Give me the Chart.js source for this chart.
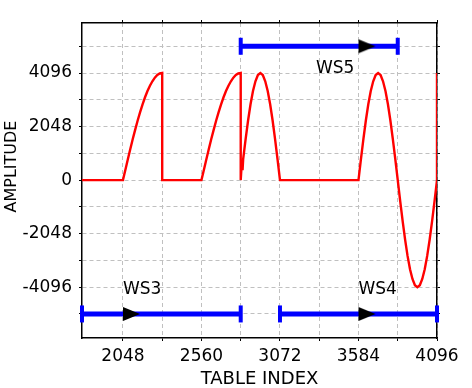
<!DOCTYPE html>
<html>
<head>
<meta charset="utf-8">
<script src="https://cdn.jsdelivr.net/npm/chart.js@4/dist/chart.umd.min.js"></script>
<style>
html,body{margin:0;padding:0;background:#fff;}
canvas{display:block;}
</style>
</head>
<body>
<canvas id="c" width="472" height="388"></canvas>
<script>
// ---- data ----
const xMin = 1781, xMax = 4096;
const yMin = -6040, yMax = 6010;
const xGrid = [2048, 2304, 2560, 2816, 3072, 3328, 3584, 3840, 4096];
const yGrid = [-5120, -4096, -3072, -2048, -1024, 0, 1024, 2048, 3072, 4096, 5120];
const xTickLabels = ['2048', '2560', '3072', '3584', '4096'];
const yTickLabels = ['-4096', '-2048', '0', '2048', '4096'];

const tableIndex = [
  1781, 2048,
  2064, 2080, 2096, 2112, 2128, 2144, 2160, 2176, 2192, 2208, 2224, 2240, 2256, 2272, 2288, 2304,
  2304, 2560,
  2576, 2592, 2608, 2624, 2640, 2656, 2672, 2688, 2704, 2720, 2736, 2752, 2768, 2784, 2800, 2816,
  2816, 2824, 2828,
  2832, 2848, 2864, 2880, 2896, 2912, 2928, 2944, 2960, 2976, 2992, 3008, 3024, 3040, 3056, 3072,
  3584,
  3600, 3616, 3632, 3648, 3664, 3680, 3696, 3712, 3728, 3744, 3760, 3776, 3792, 3808, 3824, 3840,
  3856, 3872, 3888, 3904, 3920, 3936, 3952, 3968, 3984, 4000, 4016, 4032, 4048, 4064, 4080, 4096,
  4096
];
const amplitude = [
  0, 0,
  400, 800, 1190, 1570, 1930, 2280, 2600, 2900, 3170, 3410, 3610, 3780, 3920, 4020, 4080, 4096,
  0, 0,
  400, 800, 1190, 1570, 1930, 2280, 2600, 2900, 3170, 3410, 3610, 3780, 3920, 4020, 4080, 4096,
  0, 760, 380,
  800, 1570, 2280, 2900, 3410, 3780, 4020, 4096, 4020, 3780, 3410, 2900, 2280, 1570, 800, 0,
  0,
  800, 1570, 2280, 2900, 3410, 3780, 4020, 4096, 4020, 3780, 3410, 2900, 2280, 1570, 800, 0,
  -800, -1570, -2280, -2900, -3410, -3780, -4020, -4096, -4020, -3780, -3410, -2900, -2280, -1570, -800, 0,
  4096
];

const wsNames  = ['WS3', 'WS4', 'WS5'];
const wsStart  = [1781, 3072, 2816];
const wsEnd    = [2816, 4096, 3840];
const wsLevel  = [-5120, -5120, 5120];
const wsArrow  = [2048, 3584, 3584];
const wsLabelX = [2048, 3584, 3307];
const wsLabelY = [-4340, -4340, 4090];

// ---- styling ----
const FONT = '"DejaVu Sans", Verdana, sans-serif';
const gridColor = '#c0c0c0';

const arrowImg = document.createElement('canvas');
arrowImg.width = 36; arrowImg.height = 16;
(function(){
  const g = arrowImg.getContext('2d');
  g.fillStyle = '#000';
  g.beginPath();
  g.moveTo(18, 1); g.lineTo(35, 8); g.lineTo(18, 15); g.closePath();
  g.fill();
})();

const datasets = [];
datasets.push({
  data: tableIndex.map((x, i) => ({x: x, y: amplitude[i]})),
  borderColor: '#ff0000', borderWidth: 2.4, pointRadius: 0, tension: 0, fill: false, order: 3
});
wsNames.forEach((n, i) => {
  datasets.push({
    data: [{x: wsStart[i], y: wsLevel[i]}, {x: wsEnd[i], y: wsLevel[i]}],
    borderColor: '#0000ff', borderWidth: 5, tension: 0, fill: false,
    pointStyle: 'line', pointRotation: 90, pointRadius: 8.5, pointBorderWidth: 4,
    pointBorderColor: '#0000ff', pointBackgroundColor: '#0000ff', clip: false, order: 2
  });
  datasets.push({
    data: [{x: wsArrow[i], y: wsLevel[i]}],
    showLine: false, pointStyle: arrowImg, pointRadius: 6, clip: false, order: 1
  });
});

function setTicks(list) {
  return function(scale) { scale.ticks = list.map(v => ({value: v})); };
}

const labelPlugin = {
  id: 'labels',
  afterDatasetsDraw(chart) {
    const ctx = chart.ctx, xs = chart.scales.x, ys = chart.scales.y;
    ctx.save();
    ctx.fillStyle = '#000';
    ctx.font = '17px ' + FONT;
    ctx.textAlign = 'left';
    ctx.textBaseline = 'alphabetic';
    wsNames.forEach((n, i) => {
      ctx.fillText(n, xs.getPixelForValue(wsLabelX[i]), ys.getPixelForValue(wsLabelY[i]));
    });
    // y axis title
    ctx.font = '16px ' + FONT;
    ctx.textAlign = 'center';
    ctx.textBaseline = 'middle';
    ctx.translate(12, (chart.chartArea.top + chart.chartArea.bottom) / 2 - 14);
    ctx.rotate(-Math.PI / 2);
    ctx.fillText('AMPLITUDE', 0, 0);
    ctx.restore();
  }
};

new Chart(document.getElementById('c'), {
  type: 'line',
  data: {datasets: datasets},
  plugins: [labelPlugin],
  options: {
    responsive: false,
    animation: false,
    devicePixelRatio: 1,
    layout: {padding: 0},
    plugins: {legend: {display: false}, tooltip: {enabled: false}},
    scales: {
      x: {
        type: 'linear', position: 'bottom', min: xMin, max: xMax,
        afterBuildTicks: setTicks(xGrid),
        afterFit: s => { s.height = 50; },
        grid: {color: gridColor, lineWidth: 1, tickColor: '#000', tickLength: 3, drawTicks: true},
        border: {color: '#000', width: 1.5, dash: [4, 3]},
        ticks: {
          color: '#000', font: {family: FONT, size: 17}, padding: 5, maxRotation: 0, autoSkip: false,
          callback: v => xTickLabels.includes(String(v)) ? String(v) : ''
        },
        title: {display: true, text: 'TABLE INDEX', color: '#000', font: {family: FONT, size: 18}, padding: {top: 0, bottom: -2}}
      },
      x2: {
        type: 'linear', position: 'top', min: xMin, max: xMax,
        afterBuildTicks: setTicks(xGrid),
        afterFit: s => { s.height = 23; },
        grid: {drawOnChartArea: false, tickColor: '#000', tickLength: 3},
        border: {color: '#000', width: 1.5},
        ticks: {display: false}
      },
      y: {
        type: 'linear', position: 'left', min: yMin, max: yMax,
        afterBuildTicks: setTicks(yGrid),
        afterFit: s => { s.width = 82; },
        grid: {color: gridColor, lineWidth: 1, tickColor: '#000', tickLength: 3},
        border: {color: '#000', width: 1.5, dash: [4, 3]},
        ticks: {
          color: '#000', font: {family: FONT, size: 17}, padding: 7, autoSkip: false,
          callback: v => yTickLabels.includes(String(v)) ? String(v) : ''
        }
      },
      y2: {
        type: 'linear', position: 'right', min: yMin, max: yMax,
        afterBuildTicks: setTicks(yGrid),
        afterFit: s => { s.width = 35; },
        grid: {drawOnChartArea: false, tickColor: '#000', tickLength: 3},
        border: {color: '#000', width: 1.5},
        ticks: {display: false}
      }
    }
  }
});
</script>
</body>
</html>
